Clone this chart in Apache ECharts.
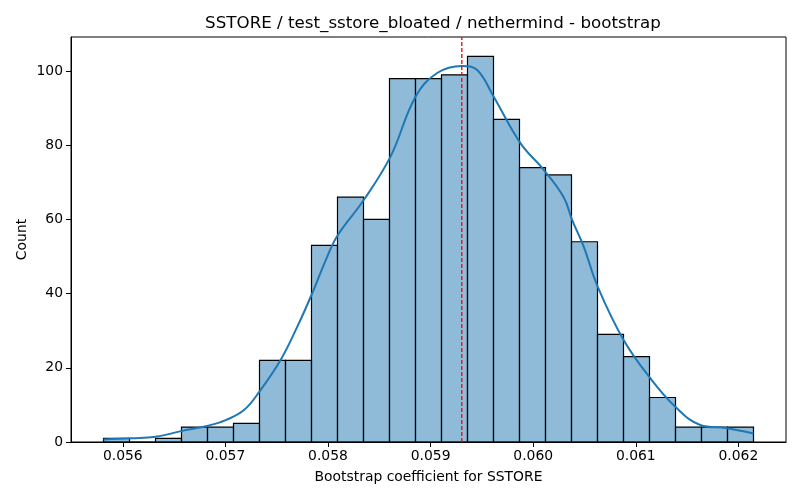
<!DOCTYPE html>
<html lang="en">
<head>
  <meta charset="UTF-8">
  <title>sstore bootstrap</title>
  <script src="https://cdn.jsdelivr.net/npm/echarts@6/dist/echarts.min.js"></script>
  <style>
    *{margin:0;padding:0;}
    body{width:800px;height:500px;background:#fff;}
    .container{width:800px;height:500px;}
  </style>
</head>
<body>
  <div class="container"></div>

  <script type="text/javascript">
    // histogram bins
    var binStart = 0.055812
    var binWidth = 0.0002534
    var counts = [1, 0, 1, 4, 4, 5, 22, 22, 53, 66, 60, 98, 98, 99, 104, 87, 74, 72, 54, 29, 23, 12, 4, 4, 4]

    // kde curve, scaled to counts
    var kdeX = [0.055812, 0.05609, 0.056321, 0.056581, 0.056831, 0.057003, 0.057181, 0.057337, 0.057538, 0.057701,
                0.05784, 0.057993, 0.058096, 0.05835, 0.05861, 0.058853, 0.059064, 0.059308, 0.059454, 0.059615,
                0.059875, 0.060102, 0.060297, 0.060379, 0.060492, 0.060628, 0.060881, 0.061141, 0.061385, 0.061628,
                0.061888, 0.062147]
    var kdeY = [0.7, 1.0, 1.4, 3.0, 4.4, 5.9, 8.6, 13.8, 22.1, 31.1,
                39.7, 50, 55.8, 65.3, 77, 93.1, 99.5, 101.4, 100.3, 93.1,
                80.6, 73.4, 66, 59.9, 52.7, 41.9, 27.5, 17.2, 9.5, 4.6,
                3.7, 2.3]

    var meanValue = 0.059304
    var xTicks = [0.056, 0.057, 0.058, 0.059, 0.060, 0.061, 0.062]

    var titleText = 'SSTORE / test_sstore_bloated / nethermind - bootstrap'
    var xName = 'Bootstrap coefficient for SSTORE'
    var yName = 'Count'

    var font = 'DejaVu Sans'
    var histData = counts.map(function(c, i){
      return [binStart + i * binWidth, binStart + (i + 1) * binWidth, c]
    })
    var kdeData = kdeX.map(function(x, i){ return [x, kdeY[i]] })

    var xMin = binStart - 0.05 * counts.length * binWidth
    var xMax = binStart + 1.05 * counts.length * binWidth
    var yMax = Math.max.apply(null, counts) * 1.05

    const mCharts = echarts.init(document.querySelector('.container'), null, {renderer: 'canvas'})
    var option = {
      animation: false,
      title: {
        text: titleText,
        left: 428,
        top: 10,
        textAlign: 'center',
        textStyle: {fontFamily: font, fontSize: 16.7, fontWeight: 'normal', color: '#000'}
      },
      grid: {
        left: 71, right: 14, top: 37, bottom: 58,
        show: true, borderColor: '#000', borderWidth: 1, backgroundColor: 'transparent'
      },
      xAxis: {
        type: 'value',
        min: xMin,
        max: xMax,
        name: xName,
        nameLocation: 'middle',
        nameGap: 28,
        nameMoveOverlap: false,
        nameTextStyle: {fontFamily: font, fontSize: 13.9, color: '#000'},
        axisLine: {show: true, lineStyle: {color: '#000', width: 1}},
        axisTick: {show: true, length: 5, lineStyle: {color: '#000'}, customValues: xTicks},
        axisLabel: {
          fontFamily: font, fontSize: 13.9, color: '#000', margin: 7,
          customValues: xTicks,
          formatter: function(v){ return v.toFixed(3) }
        },
        splitLine: {show: false}
      },
      yAxis: {
        type: 'value',
        min: 0,
        max: yMax,
        interval: 20,
        name: yName,
        nameLocation: 'middle',
        nameGap: 42,
        nameMoveOverlap: false,
        nameTextStyle: {fontFamily: font, fontSize: 13.9, color: '#000'},
        axisLine: {show: true, lineStyle: {color: '#000', width: 1}},
        axisTick: {show: true, length: 5, lineStyle: {color: '#000'}},
        axisLabel: {
          fontFamily: font, fontSize: 13.9, color: '#000', margin: 8,
          showMaxLabel: false,
          formatter: function(v){ return v % 20 === 0 ? String(v) : '' }
        },
        splitLine: {show: false}
      },
      series: [
        {
          type: 'custom',
          data: histData,
          encode: {x: [0, 1], y: 2},
          renderItem: function(params, api){
            var p0 = api.coord([api.value(0), api.value(2)])
            var p1 = api.coord([api.value(1), 0])
            return {
              type: 'rect',
              shape: {x: p0[0], y: p0[1], width: p1[0] - p0[0], height: p1[1] - p0[1]},
              style: {fill: 'rgba(31,119,180,0.5)', stroke: '#000', lineWidth: 1.2}
            }
          },
          z: 2
        },
        {
          type: 'line',
          data: kdeData,
          smooth: 0.4,
          showSymbol: false,
          lineStyle: {color: '#1f77b4', width: 2},
          z: 3
        },
        {
          // mean line
          type: 'line',
          data: [[meanValue, 0], [meanValue, yMax]],
          showSymbol: false,
          lineStyle: {color: '#ee1111', type: [4, 2], width: 1.4},
          z: 4
        }
      ]
    }
    mCharts.setOption(option)
  </script>
</body>
</html>
